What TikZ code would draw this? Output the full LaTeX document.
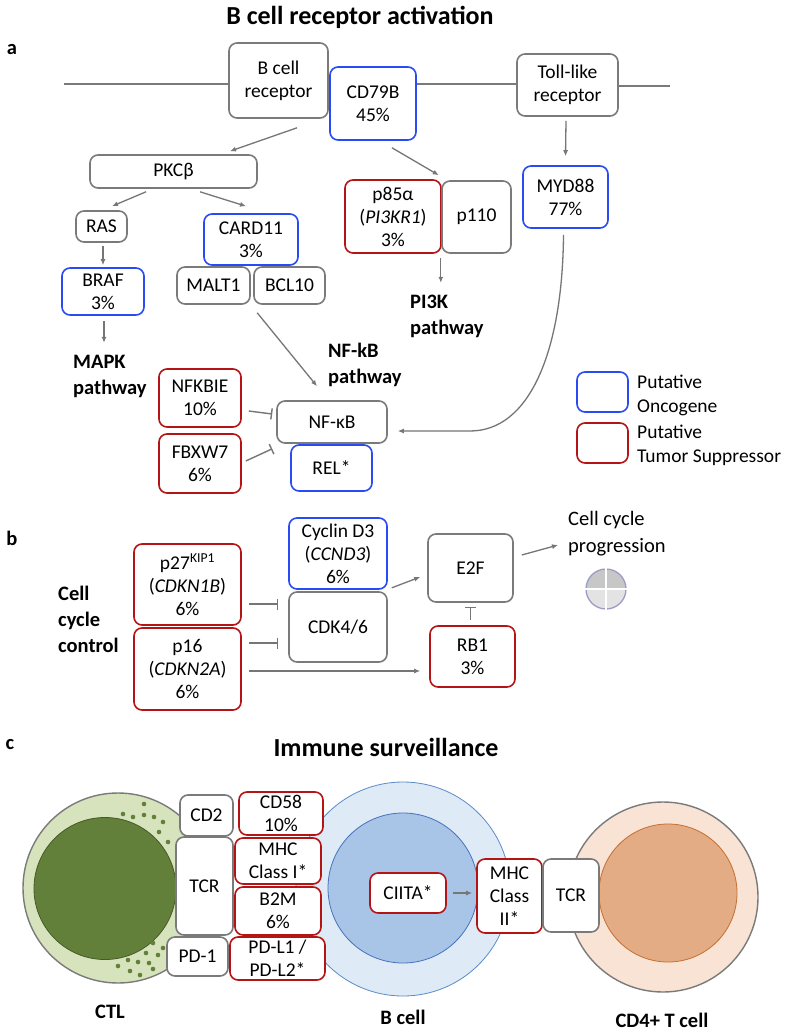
\documentclass[tikz,border=0pt]{standalone}
\usepackage{fontspec}
\setmainfont{Carlito}
\usetikzlibrary{arrows.meta}
\definecolor{boxgray}{RGB}{122,122,122}
\definecolor{arrgray}{RGB}{118,118,118}
\definecolor{onco}{RGB}{40,75,245}
\definecolor{supp}{RGB}{180,20,20}
\definecolor{ctlout}{RGB}{214,227,188}
\definecolor{ctlin}{RGB}{99,128,58}
\definecolor{bout}{RGB}{222,234,246}
\definecolor{boutline}{RGB}{91,140,201}
\definecolor{bin}{RGB}{168,196,230}
\definecolor{binline}{RGB}{70,114,190}
\definecolor{tout}{RGB}{248,227,212}
\definecolor{tin}{RGB}{227,172,133}
\definecolor{tinline}{RGB}{197,110,50}
\tikzset{
  gbox/.style={draw=boxgray, fill=white, rounded corners=8, line width=1.6, align=center, inner sep=1, font=\fontsize{19.5}{23}\selectfont},
  obox/.style={gbox, draw=onco},
  sbox/.style={gbox, draw=supp},
  arr/.style={draw=arrgray, line width=1.3, -{Latex[length=6pt,width=5pt]}},
  inh/.style={draw=arrgray, line width=1.4, -{Bar[width=11pt]}},
  lbl/.style={font=\bfseries\fontsize{20.5}{26}\selectfont, align=left, inner sep=0},
  txt/.style={font=\fontsize{19.5}{24}\selectfont, align=left, inner sep=0},
  ttl/.style={font=\bfseries\fontsize{26}{30}\selectfont, inner sep=0},
}
\begin{document}
\begin{tikzpicture}[x=1pt,y=-1pt]
\useasboundingbox[fill=white] (0,0) rectangle (786,1035);

% a: B cell receptor activation
\node[ttl] (ttla) at (360,17) {B cell receptor activation};
\node[lbl] (seca) at (12,50) {a};
\coordinate (memL) at (64,84);
\coordinate (memR) at (670,86);
\node[gbox, minimum width=99, minimum height=75] (bcr) at (278.5,80.5) {B cell\\receptor};
\node[obox, minimum width=86, minimum height=73] (cd79b) at (373,103.5) {CD79B\\45\%};
\node[gbox, minimum width=101, minimum height=62] (tlr) at (567.5,85) {Toll-like\\receptor};
\draw[boxgray, line width=1.3] (memL) -- (memL -| bcr.west);
\draw[boxgray, line width=1.3] (cd79b.east |- memL) -- (tlr.west |- memL);
\draw[boxgray, line width=1.3] (tlr.east |- memR) -- (memR);

\node[gbox, minimum width=167, minimum height=33] (pkc) at (173.5,171.5) {PKCβ};
\node[gbox, minimum width=51, minimum height=31] (ras) at (101.5,226.5) {RAS};
\node[obox, minimum width=82, minimum height=47] (braf) at (103,291.5) {BRAF\\3\%};
\node[obox, minimum width=94, minimum height=51] (card) at (251,239.5) {CARD11\\3\%};
\node[gbox, minimum width=73, minimum height=37] (malt) at (213.5,285.5) {MALT1};
\node[gbox, minimum width=71, minimum height=37] (bcl) at (289.5,285.5) {BCL10};
\node[sbox, minimum width=96, minimum height=73] (p85) at (393,216.5) {p85α\\(\textit{PI3KR1})\\3\%};
\node[gbox, minimum width=69, minimum height=72] (p110) at (476.5,217) {p110};
\node[obox, minimum width=85, minimum height=62] (myd) at (565.5,197) {MYD88\\77\%};

\node[lbl, anchor=west] (mapk) at (73,376.5) {MAPK\\pathway};
\node[lbl, anchor=west] (nfpath) at (328,365) {NF-kB\\pathway};
\node[lbl, anchor=west] (pi3k) at (410,316) {PI3K\\pathway};

\node[sbox, minimum width=82, minimum height=58] (nfkbie) at (200,398) {NFKBIE\\10\%};
\node[sbox, minimum width=82, minimum height=59] (fbxw7) at (200,463.5) {FBXW7\\6\%};
\node[gbox, minimum width=110, minimum height=42] (nfkb) at (332,422) {NF-κB};
\node[obox, minimum width=81, minimum height=46] (rel) at (331.5,468) {REL*};

\node[obox, minimum width=51, minimum height=40] (lgo) at (602.5,392) {};
\node[sbox, minimum width=51, minimum height=40] (lgs) at (602.5,443) {};
\node[txt, anchor=west] (lgotxt) at (637,395) {Putative\\Oncogene};
\node[txt, anchor=west] (lgstxt) at (637,445) {Putative\\Tumor Suppressor};

\draw[arr] ([shift={(18.5,9)}]bcr.south) -- ([shift={(56.5,-3)}]pkc.north);
\draw[arr] ([shift={(-27.5,3)}]pkc.south) -- ([shift={(10.5,-4)}]ras.north);
\draw[arr] ([shift={(26.5,3)}]pkc.south) -- ([shift={(-5,-7)}]card.north);
\draw[arr] ([shift={(1.5,3)}]ras.south) -- ([shift={(0,-2)}]braf.north);
\draw[arr] ([shift={(1,5)}]braf.south) -- ([shift={(1,27)}]braf.south);
\draw[arr] ([shift={(4,8)}]bcl.south west) -- ([shift={(-15,-14)}]nfkb.north);
\draw[arr] ([shift={(19,7)}]cd79b.south) -- ([shift={(-3,-4)}]p85.north east);
\draw[arr] ([shift={(-1,4)}]p85.south east) -- ([shift={(-1,29)}]p85.south east);
\draw[arr] ([shift={(-1.5,4)}]tlr.south) -- ([shift={(0,-9)}]myd.north);
\draw[arr] ([shift={(-2,6)}]myd.south) .. controls +(-1,116) and (530,431) .. (470,431)
  -- ([shift={(10,9)}]nfkb.east);
\draw[inh] ([shift={(7,13)}]nfkbie.east) -- ([shift={(-4,-8)}]nfkb.west);
\draw[inh] ([shift={(4,-2.5)}]fbxw7.east) -- ([shift={(-4,5)}]nfkb.south west);

% b: cell cycle control
\node[lbl] (secb) at (12,538) {b};
\node[obox, minimum width=98, minimum height=71] (cycd) at (338,553.5) {Cyclin D3\\(\textit{CCND3})\\6\%};
\node[gbox, minimum width=98, minimum height=70] (cdk) at (338,627) {CDK4/6};
\node[sbox, minimum width=107, minimum height=81] (p27) at (187.5,584.5) {p27\textsuperscript{KIP1}\\(\textit{CDKN1B})\\6\%};
\node[sbox, minimum width=107, minimum height=82] (p16) at (187.5,669) {p16\\(\textit{CDKN2A})\\6\%};
\node[lbl, anchor=west] (ccc) at (58,619) {Cell\\cycle\\control};
\node[gbox, minimum width=85, minimum height=68] (e2f) at (470.5,568) {E2F};
\node[sbox, minimum width=85, minimum height=61] (rb1) at (472.5,656.5) {RB1\\3\%};
\node[txt, anchor=west, font=\fontsize{20.5}{27}\selectfont] (prog) at (568,533.5) {Cell cycle\\progression};

\draw[inh] ([shift={(7,19.5)}]p27.east) -- ([shift={(-10,-23)}]cdk.west);
\draw[inh] ([shift={(7,-26)}]p16.east) -- ([shift={(-10,16)}]cdk.west);
\draw[arr] ([shift={(7,2)}]p16.east) -- ([shift={(-9,14.5)}]rb1.west);
\draw[inh] ([shift={(-2,-5)}]rb1.north) -- ([shift={(0,4)}]e2f.south);
\draw[arr] ([shift={(4,-2)}]cycd.south east) -- ([shift={(-7,9)}]e2f.west);
\draw[arr] ([shift={(8,-13)}]e2f.east) -- ([shift={(-10,11.5)}]prog.west);

% progress icon
\coordinate (ico) at (606,589);
\fill[black!22] (ico) ++(-20,0) arc[start angle=180, end angle=0, radius=20pt] -- cycle;
\fill[black!11] (ico) ++(20,0) arc[start angle=0, end angle=-180, radius=20pt] -- cycle;
\draw[blue!30!gray!60, line width=1.3] (ico) circle[radius=20pt];
\draw[white, line width=1.6] ([shift={(-21,0)}]ico) -- ([shift={(21,0)}]ico);
\draw[white, line width=1.6] ([shift={(0,-21)}]ico) -- ([shift={(0,21)}]ico);

% c: immune surveillance
\node[lbl] (secc) at (10,745) {c};
\node[ttl] (ttlc) at (386,747) {Immune surveillance};

% cells
\draw[boxgray, fill=ctlout, line width=1.4] (118,888) circle[radius=95pt];
\draw[ctlin!70!black, fill=ctlin, line width=0.8] (105,888.5) circle[radius=71pt];
\foreach \dx/\dy in {144/804, 123/814, 133/817, 144/815, 154/817, 163/822, 159/832, 168/842,
  153/943, 163/948, 146/953, 158/955, 128/960, 138/962, 149/963, 118/966, 130/971, 140/975, 153/969}
  \fill[ctlin] (\dx,\dy) circle[radius=2.3pt];
\draw[boutline, fill=bout, line width=0.8] (403,889) circle[radius=107pt];
\draw[binline, fill=bin, line width=0.8] (403,888) circle[radius=75pt];
\draw[boxgray, fill=tout, line width=1.4] (663,897) circle[radius=95pt];
\draw[tinline, fill=tin, line width=0.8] (668,893) circle[radius=69pt];

\node[gbox, minimum width=53, minimum height=41] (cd2) at (206.5,815.5) {CD2};
\node[gbox, minimum width=57, minimum height=98] (tcra) at (204.5,886) {TCR};
\node[gbox, minimum width=61, minimum height=39] (pd1) at (197.5,956.5) {PD-1};
\node[sbox, minimum width=84, minimum height=43] (cd58) at (281,813.5) {CD58\\10\%};
\node[sbox, minimum width=86, minimum height=46] (mhc1) at (278,861) {MHC\\Class I*};
\node[sbox, minimum width=86, minimum height=48] (b2m) at (278,911) {B2M\\6\%};
\node[sbox, minimum width=95, minimum height=43] (pdl) at (277.5,958.5) {PD-L1 /\\PD-L2*};
\node[sbox, minimum width=76, minimum height=40] (ciita) at (408,893) {CIITA*};
\node[sbox, minimum width=65, minimum height=74] (mhc2) at (509.5,896) {MHC\\Class\\II*};
\node[gbox, minimum width=56, minimum height=73] (tcrb) at (571,895.5) {TCR};
\draw[arr, shorten <=6, shorten >=4] (ciita.east) -- (ciita.east -| mhc2.west);

\node[lbl] (ctl) at (110,1012) {CTL};
\node[lbl] (bcell) at (403,1017) {B cell};
\node[lbl] (cdt) at (662,1020) {CD4+ T cell};
\end{tikzpicture}
\end{document}
